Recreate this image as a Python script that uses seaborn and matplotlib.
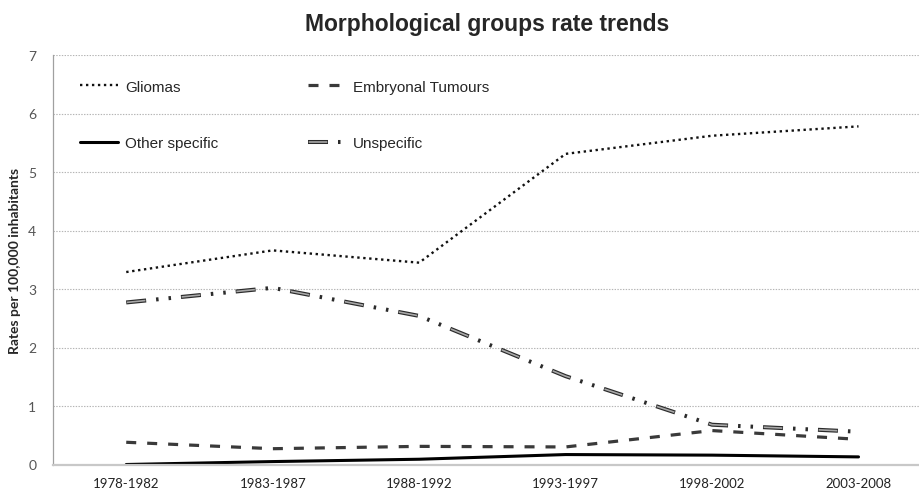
import numpy as np
import pandas as pd
import matplotlib
matplotlib.use("Agg")
import matplotlib.pyplot as plt
import seaborn as sns

# values
periods = ["1978-1982", "1983-1987", "1988-1992", "1993-1997", "1998-2002", "2003-2008"]
gliomas = [3.29, 3.66, 3.45, 5.31, 5.62, 5.78]
embryonal = [0.38, 0.27, 0.31, 0.30, 0.58, 0.43]
other_specific = [0.00, 0.05, 0.09, 0.17, 0.16, 0.13]
unspecific = [2.77, 3.02, 2.54, 1.51, 0.68, 0.56]
y_ticks = [0, 1, 2, 3, 4, 5, 6, 7]

groups = {
    "Gliomas": gliomas,
    "Embryonal Tumours": embryonal,
    "Other specific": other_specific,
    "Unspecific": unspecific,
}

rows = []
for name, vals in groups.items():
    for i, v in enumerate(vals):
        rows.append({"group": name, "pos": i, "period": periods[i], "rate": v})
df = pd.DataFrame(rows)

sns.set_style("white")
plt.rcParams["font.family"] = ["Liberation Sans", "DejaVu Sans"]
# dash patterns below are given in points, not in line widths
plt.rcParams["lines.scale_dashes"] = False

fig = plt.figure(figsize=(9.19, 4.89), dpi=100)
ax = fig.add_axes([53 / 919, 1 - 465.5 / 489, 866 / 919, 409.5 / 489])

styles = {
    "Other specific": [dict(color="black", linewidth=2.2, linestyle="-")],
    "Embryonal Tumours": [dict(color="#3a3a3a", linewidth=2.3, linestyle=(0, (7.2, 7.9)))],
    # dark outline with the dots, then a light core inside the long dashes
    "Unspecific": [
        dict(color="#2b2b2b", linewidth=2.9, linestyle=(0, (14.4, 7.2, 1.8, 7.2, 1.8, 7.2))),
        dict(color="#a8a8a8", linewidth=1.2, linestyle=(39.1, (13.4, 26.2))),
    ],
    "Gliomas": [dict(color="#111111", linewidth=1.7, linestyle=(0, (1.7, 2.6)))],
}

legend_handles = {}
for name in ["Other specific", "Embryonal Tumours", "Unspecific", "Gliomas"]:
    sub = df[df["group"] == name]
    parts = []
    for k, st in enumerate(styles[name]):
        n_before = len(ax.lines)
        sns.lineplot(data=sub, x="pos", y="rate", ax=ax, label="_" + name + str(k), **st)
        parts.append(ax.lines[n_before])
    legend_handles[name] = tuple(parts) if len(parts) > 1 else parts[0]

ax.set_xlim(-0.5, (919 - 126) / 146.5)
ax.set_ylim(0, 7)
ax.set_xticks(range(len(periods)))
ax.set_xticklabels(periods, fontsize=9.5, color="#222222", family=["Lato", "DejaVu Sans"])
ax.set_yticks(y_ticks)
ax.set_yticklabels([str(t) for t in y_ticks], fontsize=10, color="#555555",
                   family=["Lato", "DejaVu Sans"])
ax.tick_params(axis="x", length=0, pad=9)
ax.tick_params(axis="y", length=4, width=0.8, color="#999999", pad=8)

ax.grid(axis="y", linestyle=(0, (1, 1)), color="#b5b5b5", linewidth=0.8)
ax.grid(axis="x", visible=False)
for s in ["top", "right"]:
    ax.spines[s].set_visible(False)
ax.spines["left"].set_color("#a0a0a0")
ax.spines["left"].set_linewidth(0.9)
ax.spines["bottom"].set_color("#c8c8c8")
ax.spines["bottom"].set_linewidth(1.6)

ax.set_xlabel("")
ax.set_ylabel("Rates per 100,000 inhabitants", fontsize=10, fontweight="bold",
              family=["Lato", "DejaVu Sans"], labelpad=5)

order = ["Gliomas", "Other specific", "Embryonal Tumours", "Unspecific"]
ax.legend([legend_handles[o] for o in order], order, ncol=2, loc="upper left",
          bbox_to_anchor=(0.031, 0.94), frameon=False, fontsize=11,
          handlelength=2.5, handletextpad=0.45, columnspacing=5.9,
          labelspacing=2.8, borderpad=0, borderaxespad=0)

fig.text(487 / 919, 1 - 25 / 489, "Morphological groups rate trends", ha="center",
         va="center", fontsize=16.5, fontweight="bold")

fig.savefig("out.png", dpi=100)
